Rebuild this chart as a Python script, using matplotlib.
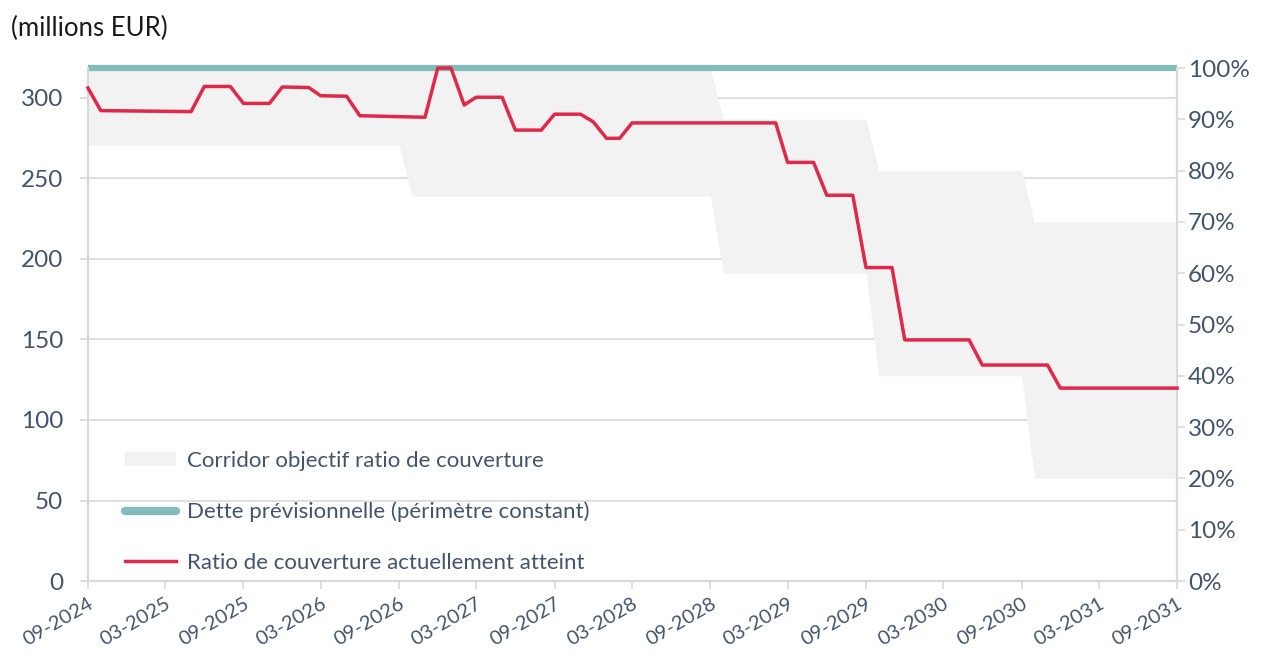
import pandas as pd
import matplotlib
matplotlib.use("Agg")
from matplotlib import pyplot as plt
from matplotlib import dates as mdates
from matplotlib.lines import Line2D
from matplotlib.patches import Patch
from matplotlib.ticker import PercentFormatter

plt.rcParams['font.family'] = ['Lato', 'DejaVu Sans']

TXT = '#44546A'
GRID = '#D9D9D9'

# dette prévisionnelle (millions EUR), constante
debt_value = 318.6
debt_dates = ['2024-09', '2031-09']

# ratio de couverture actuellement atteint (en %)
ratio_dates = ['2024-09', '2024-10', '2025-05', '2025-06', '2025-08', '2025-09',
               '2025-11', '2025-12', '2026-02', '2026-03', '2026-05', '2026-06',
               '2026-11', '2026-12', '2027-01', '2027-02', '2027-03', '2027-05',
               '2027-06', '2027-08', '2027-09', '2027-11', '2027-12', '2028-01',
               '2028-02', '2028-03', '2029-02', '2029-03', '2029-05', '2029-06',
               '2029-08', '2029-09', '2029-11', '2029-12', '2030-05', '2030-06',
               '2030-11', '2030-12', '2031-09']
ratio_values = [96.1, 91.7, 91.5, 96.4, 96.4, 93.1,
                93.1, 96.3, 96.2, 94.6, 94.5, 90.7,
                90.4, 100.0, 100.0, 92.8, 94.3, 94.3,
                87.9, 87.9, 91.0, 91.0, 89.5, 86.3,
                86.3, 89.3, 89.3, 81.6, 81.6, 75.2,
                75.2, 61.1, 61.1, 47.0, 47.0, 42.1,
                42.1, 37.6, 37.6]

# corridor objectif (en %)
corridor_dates = ['2024-09', '2026-09', '2026-10', '2028-09', '2028-10',
                  '2029-09', '2029-10', '2030-09', '2030-10', '2031-09']
corridor_high = [100, 100, 100, 100, 90, 90, 80, 80, 70, 70]
corridor_low = [85, 85, 75, 75, 60, 60, 40, 40, 20, 20]

labels = ['Corridor objectif ratio de couverture',
          'Dette prévisionnelle (périmètre constant)',
          'Ratio de couverture actuellement atteint']

ratio_x = pd.to_datetime(ratio_dates)
corr_x = pd.to_datetime(corridor_dates)
debt_x = pd.to_datetime(debt_dates)

fig = plt.figure(figsize=(12.64, 6.54), dpi=100)
ax = fig.add_axes([0.0696, 0.1116, 0.8616, 0.7844])
ax2 = ax.twinx()

ax.set_xlim(debt_x[0], debt_x[-1])
ax.set_ylim(0, debt_value)
ax2.set_ylim(0, 100)
ax.set_yticks(range(0, 301, 50))
ax2.set_yticks(range(0, 101, 10))
ax2.yaxis.set_major_formatter(PercentFormatter(100, decimals=0))

ax.grid(axis='y', color=GRID, lw=1.2)
ax.set_axisbelow(True)

ax2.fill_between(corr_x, corridor_low, corridor_high, color='#F2F2F2', lw=0, zorder=1)
ax2.plot(debt_x, [debt_value, debt_value], color='#84BCBC', lw=4.5,
         solid_capstyle='butt', transform=ax.transData, clip_on=False, zorder=2)
ax2.plot(ratio_x, ratio_values, color='#E0284B', lw=2.5, zorder=3, clip_on=False)

ax.xaxis.set_major_locator(mdates.MonthLocator(bymonth=[3, 9]))
ax.xaxis.set_major_formatter(mdates.DateFormatter('%m-%Y'))
for lbl in ax.get_xticklabels():
    lbl.set_rotation(30)
    lbl.set_ha('right')
    lbl.set_rotation_mode('anchor')

for a in (ax, ax2):
    for side, sp in a.spines.items():
        sp.set_visible(side != 'top')
        sp.set_color(GRID)
        sp.set_linewidth(1.5)
    a.tick_params(colors=GRID, labelcolor=TXT, labelsize=17.5, length=6, width=1.2)
ax.tick_params(axis='x', labelsize=14.5, pad=4)
ax.tick_params(axis='y', pad=12)
ax2.tick_params(axis='y', pad=2)

fig.text(0.009, 0.957, '(millions EUR)', fontsize=18.5, color='#1A1A1A', va='center')

handles = [Patch(facecolor='#F2F2F2', edgecolor='none'),
           Line2D([], [], color='#84BCBC', lw=6, solid_capstyle='round'),
           Line2D([], [], color='#E0284B', lw=2.5)]
leg = ax2.legend(handles, labels, loc='center left', bbox_to_anchor=(0.034, 0.1345),
                 frameon=False, fontsize=16, labelspacing=1.37, handlelength=2.3,
                 handleheight=0.6, handletextpad=0.5, borderpad=0, borderaxespad=0)
for t in leg.get_texts():
    t.set_color(TXT)

fig.savefig('out.png', dpi=100)
